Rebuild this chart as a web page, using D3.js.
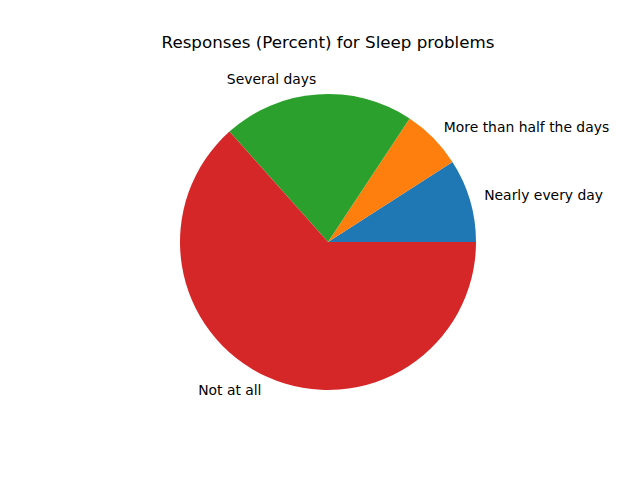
<!DOCTYPE html>
<html>
<head>
<meta charset="utf-8">
<script src="https://cdn.jsdelivr.net/npm/d3@7"></script>
<style>
  html, body { margin: 0; padding: 0; background: #fff; }
  svg { display: block; }
</style>
</head>
<body>
<svg id="chart" width="640" height="480"></svg>
<script>
const categories = ["Nearly every day", "More than half the days", "Several days", "Not at all"];
const values = [9.1, 6.6, 20.9, 63.4];
const colors = ["#1f77b4", "#ff7f0e", "#2ca02c", "#d62728"];
const title = "Responses (Percent) for Sleep problems";

const svg = d3.select("#chart");
const cx = 328, cy = 242, r = 148;
const font = "DejaVu Sans, sans-serif";

const data = categories.map((c, i) => ({ label: c, value: values[i], color: colors[i] }));

// matplotlib: start at 3 o'clock, counterclockwise
const pie = d3.pie().sort(null).value(d => d.value)
  .startAngle(Math.PI / 2).endAngle(Math.PI / 2 - 2 * Math.PI);
const arcs = pie(data);
const arc = d3.arc().innerRadius(0).outerRadius(r);

const g = svg.append("g").attr("transform", `translate(${cx},${cy})`);
g.selectAll("path").data(arcs).enter().append("path")
  .attr("d", arc)
  .attr("fill", d => d.data.color);

g.selectAll("text.lbl").data(arcs).enter().append("text")
  .attr("class", "lbl")
  .attr("x", d => 1.1 * r * Math.sin((d.startAngle + d.endAngle) / 2))
  .attr("y", d => -1.1 * r * Math.cos((d.startAngle + d.endAngle) / 2) - 1)
  .attr("text-anchor", d => Math.sin((d.startAngle + d.endAngle) / 2) > 0 ? "start" : "end")
  .attr("dominant-baseline", "central")
  .attr("font-family", font)
  .attr("font-size", "13.9px")
  .attr("fill", "#000")
  .text(d => d.data.label);

svg.append("text")
  .attr("x", cx).attr("y", 48)
  .attr("text-anchor", "middle")
  .attr("font-family", font)
  .attr("font-size", "16.7px")
  .attr("fill", "#000")
  .text(title);
</script>
</body>
</html>
